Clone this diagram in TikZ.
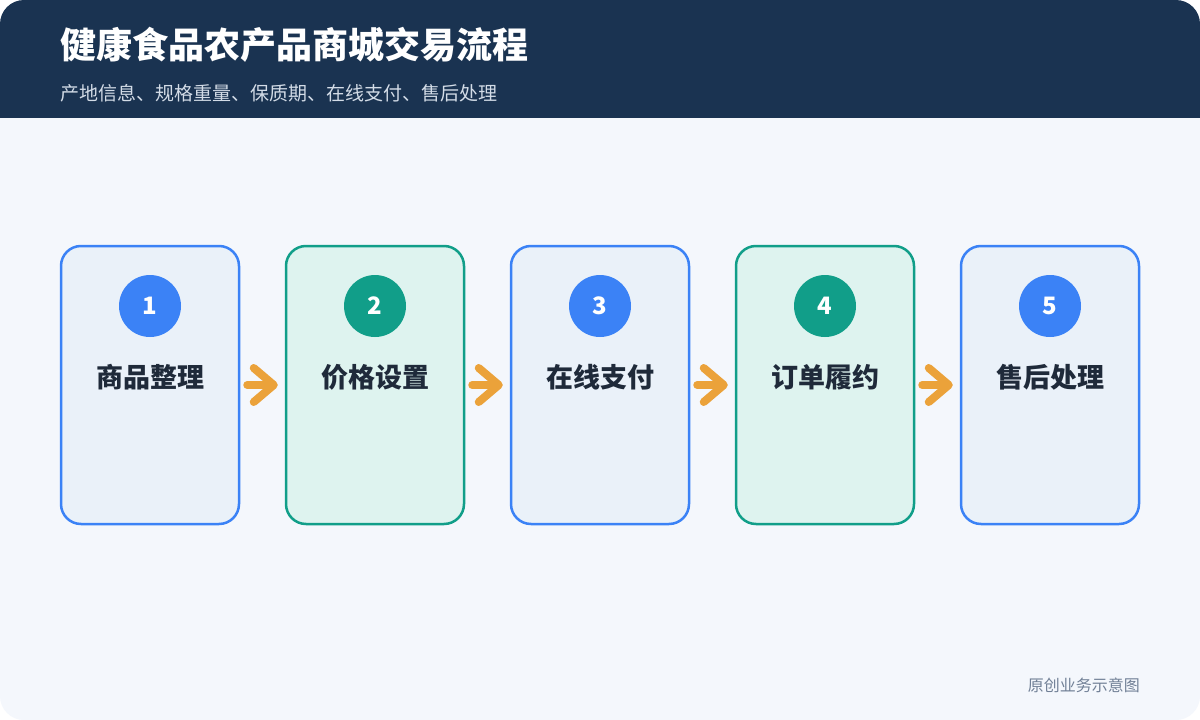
\documentclass[tikz,border=0pt]{standalone}
\usepackage{fontspec}
\setmainfont{Noto Sans CJK SC}
\usetikzlibrary{arrows.meta}
\definecolor{headbg}{HTML}{1A3351}
\definecolor{pagebg}{HTML}{F4F7FC}
\definecolor{bluec}{HTML}{3B82F6}
\definecolor{bluefill}{HTML}{EAF1F9}
\definecolor{greenc}{HTML}{119E89}
\definecolor{greenfill}{HTML}{DEF3EF}
\definecolor{labelc}{HTML}{1F2A3A}
\definecolor{arrowc}{HTML}{EBA23A}
\definecolor{subc}{HTML}{D3DCE7}
\definecolor{footc}{HTML}{718096}
\tikzstyle{bluebox}=[rectangle,rounded corners=20pt,draw=bluec,fill=bluefill,
                     line width=2.5pt,minimum width=178pt,minimum height=278pt]
\tikzstyle{greenbox}=[rectangle,rounded corners=20pt,draw=greenc,fill=greenfill,
                      line width=2.5pt,minimum width=178pt,minimum height=278pt]
\tikzstyle{bluedot}=[circle,fill=bluec,text=white,inner sep=0pt,
                     minimum size=62pt,font=\fontsize{24}{24}\selectfont\bfseries]
\tikzstyle{greendot}=[circle,fill=greenc,text=white,inner sep=0pt,
                      minimum size=62pt,font=\fontsize{24}{24}\selectfont\bfseries]
\tikzstyle{steplabel}=[inner sep=0pt,text=labelc,
                       font=\fontsize{27}{27}\selectfont\bfseries]
\tikzstyle{flow}=[draw=arrowc,line width=8pt,line cap=round,
                  -{Straight Barb[length=20pt,width=34pt,round]},
                  shorten <=7pt,shorten >=7pt]
\begin{document}
\begin{tikzpicture}[x=1pt,y=-1pt]
    \useasboundingbox (0,0) rectangle (1200,720);
    \fill[white] (0,0) rectangle (1200,720);
    \begin{scope}
      \clip[rounded corners=24pt] (0,0) rectangle (1200,720);
      \fill[pagebg] (0,0) rectangle (1200,720);
      \fill[headbg] (0,0) rectangle (1200,118);
    \end{scope}
    \node (title) at (60,45) [anchor=west,inner sep=0pt,text=white,
      font=\fontsize{36}{36}\selectfont\bfseries]{健康食品农产品商城交易流程};
    \node (subtitle) at (60,93) [anchor=west,inner sep=0pt,text=subc,
      font=\fontsize{19}{19}\selectfont]{产地信息、规格重量、保质期、在线支付、售后处理};
    % five steps
    \node (s1) at (150,385) [bluebox]{};
    \node (s2) at (375,385) [greenbox]{};
    \node (s3) at (600,385) [bluebox]{};
    \node (s4) at (825,385) [greenbox]{};
    \node (s5) at (1050,385) [bluebox]{};
    \node (n1) at (150,306) [bluedot]{1};
    \node (n2) at (375,306) [greendot]{2};
    \node (n3) at (600,306) [bluedot]{3};
    \node (n4) at (825,306) [greendot]{4};
    \node (n5) at (1050,306) [bluedot]{5};
    \node (l1) at (150,377) [steplabel]{商品整理};
    \node (l2) at (375,377) [steplabel]{价格设置};
    \node (l3) at (600,377) [steplabel]{在线支付};
    \node (l4) at (825,377) [steplabel]{订单履约};
    \node (l5) at (1050,377) [steplabel]{售后处理};
    \draw[flow] (s1.east) -- (s2.west);
    \draw[flow] (s2.east) -- (s3.west);
    \draw[flow] (s3.east) -- (s4.west);
    \draw[flow] (s4.east) -- (s5.west);
    \node (foot) at (1140,685) [anchor=east,inner sep=0pt,text=footc,
      font=\fontsize{16}{16}\selectfont]{原创业务示意图};
  \end{tikzpicture}
\end{document}
